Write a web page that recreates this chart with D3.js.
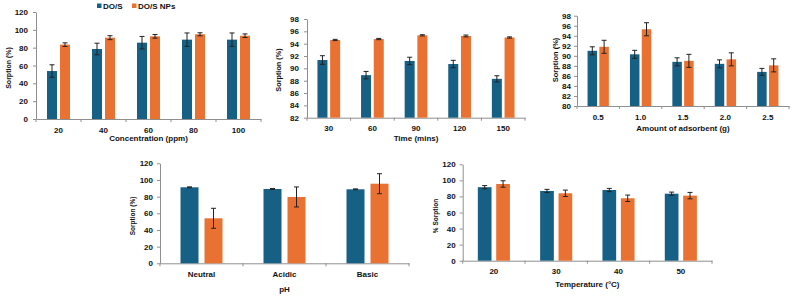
<!DOCTYPE html>
<html>
<head>
<meta charset="utf-8">
<script src="https://cdn.jsdelivr.net/npm/d3@7"></script>
<style>
  body { margin: 0; background: #fff; }
  svg text { font-family: "Liberation Sans", Arial, sans-serif; font-weight: bold; fill: #111; }
</style>
</head>
<body>
<svg id="chart" width="795" height="297"></svg>
<script>
// series names + colours
var seriesNames = ["DO/S", "DO/S NPs"];
var seriesColors = ["#176085", "#E97132"];

// concentration
var concCats = ["20", "40", "60", "80", "100"];
var concDOS = [53.8, 78.5, 85.6, 89, 89];
var concDOSErr = [7, 6.5, 7, 7.5, 7.5];
var concNPs = [83.4, 91.2, 92.7, 95, 93.4];
var concNPsErr = [2, 2.2, 2, 1.7, 2];

// time
var timeCats = ["30", "60", "90", "120", "150"];
var timeDOS = [91.35, 88.9, 91.2, 90.7, 88.3];
var timeDOSErr = [0.7, 0.6, 0.6, 0.6, 0.5];
var timeNPs = [94.6, 94.75, 95.35, 95.25, 95.0];
var timeNPsErr = [0.1, 0.1, 0.1, 0.15, 0.1];

// amount of adsorbent
var doseCats = ["0.5", "1.0", "1.5", "2.0", "2.5"];
var doseDOS = [91.0, 90.3, 88.8, 88.4, 86.8];
var doseDOSErr = [0.8, 0.8, 0.8, 0.8, 0.7];
var doseNPs = [91.8, 95.3, 89.0, 89.3, 88.1];
var doseNPsErr = [1.3, 1.3, 1.3, 1.3, 1.3];

// pH
var phCats = ["Neutral", "Acidic", "Basic"];
var phDOS = [91.2, 89.2, 88.8];
var phDOSErr = [0.5, 0.5, 0.5];
var phNPs = [54, 79.6, 95.5];
var phNPsErr = [12, 12, 12];

// temperature
var tempCats = ["20", "30", "40", "50"];
var tempDOS = [91.5, 86.8, 88, 83.4];
var tempDOSErr = [2, 2, 2, 2];
var tempNPs = [95.5, 83.9, 77.7, 81];
var tempNPsErr = [4, 4, 4, 4];

var svg = d3.select("#chart");
var axisColor = "#8f8f8f";

function drawPanel(p) {
  var g = svg.append("g");

  var x = d3.scaleBand().domain(p.cats).range([p.left, p.right]);
  var y = d3.scaleLinear().domain([p.yMin, p.yMax]).range([p.bottom, p.top]);

  // y axis
  var yAxis = d3.axisLeft(y)
      .tickValues(d3.range(p.yMin, p.yMax + 0.001, p.yStep))
      .tickFormat(d3.format("d"))
      .tickSize(3)
      .tickSizeOuter(0)
      .tickPadding(p.yPad);
  var ya = g.append("g")
      .attr("transform", "translate(" + p.left + ",0)")
      .call(yAxis);
  ya.select(".domain").attr("stroke", axisColor);
  ya.selectAll(".tick line").attr("stroke", axisColor);
  ya.selectAll(".tick text").attr("font-size", 8).attr("fill", "#111");

  // x axis (labels only, boundary ticks drawn below)
  var xAxis = d3.axisBottom(x).tickSize(0).tickSizeOuter(0).tickPadding(8);
  var xa = g.append("g")
      .attr("transform", "translate(0," + p.bottom + ")")
      .call(xAxis);
  xa.select(".domain").attr("stroke", axisColor);
  xa.selectAll(".tick text").attr("font-size", 8).attr("fill", "#111");

  var bounds = p.cats.map(function(c) { return x(c); }).concat([p.right]);
  g.selectAll(".bt")
      .data(bounds)
      .enter().append("line")
      .attr("x1", function(d) { return d; })
      .attr("x2", function(d) { return d; })
      .attr("y1", p.bottom)
      .attr("y2", p.bottom + 3)
      .attr("stroke", axisColor);

  // bars
  var series = [
    {vals: p.dos, errs: p.dosErr, off: -(p.barW + p.gap / 2), color: seriesColors[0]},
    {vals: p.nps, errs: p.npsErr, off: p.gap / 2, color: seriesColors[1]}
  ];
  series.forEach(function(s) {
    var rows = p.cats.map(function(c, i) { return {cat: c, v: s.vals[i], e: s.errs[i]}; });
    g.selectAll(null)
        .data(rows)
        .enter().append("rect")
        .attr("x", function(d) { return x(d.cat) + x.bandwidth() / 2 + s.off; })
        .attr("y", function(d) { return y(d.v); })
        .attr("width", p.barW)
        .attr("height", function(d) { return p.bottom - y(d.v); })
        .attr("fill", s.color);

    // error bars
    var eb = g.selectAll(null)
        .data(rows)
        .enter().append("g")
        .attr("stroke", "#222")
        .attr("stroke-width", 1);
    var cx = function(d) { return x(d.cat) + x.bandwidth() / 2 + s.off + p.barW / 2; };
    eb.append("line")
        .attr("x1", cx).attr("x2", cx)
        .attr("y1", function(d) { return y(d.v - d.e); })
        .attr("y2", function(d) { return y(d.v + d.e); });
    [1, -1].forEach(function(sign) {
      eb.append("line")
          .attr("x1", function(d) { return cx(d) - 2.5; })
          .attr("x2", function(d) { return cx(d) + 2.5; })
          .attr("y1", function(d) { return y(d.v + sign * d.e); })
          .attr("y2", function(d) { return y(d.v + sign * d.e); });
    });
  });

  // axis titles
  g.append("text")
      .attr("x", (p.left + p.right) / 2)
      .attr("y", p.xTitleY)
      .attr("text-anchor", "middle")
      .attr("dominant-baseline", "central")
      .attr("font-size", 8)
      .text(p.xTitle);
  g.append("text")
      .attr("transform", "translate(" + p.yTitleX + "," + p.yTitleY + ") rotate(-90)")
      .attr("text-anchor", "middle")
      .attr("dominant-baseline", "central")
      .attr("font-size", p.yTitleSize)
      .text(p.yTitle);
}

drawPanel({cats: concCats, dos: concDOS, dosErr: concDOSErr, nps: concNPs, npsErr: concNPsErr,
  yMin: 0, yMax: 120, yStep: 20, left: 36, right: 261, top: 12, bottom: 119, yPad: 5,
  barW: 10, gap: 3, xTitle: "Concentration (ppm)", xTitleY: 138.5,
  yTitle: "Sorption (%)", yTitleX: 8, yTitleY: 68, yTitleSize: 7});

drawPanel({cats: timeCats, dos: timeDOS, dosErr: timeDOSErr, nps: timeNPs, npsErr: timeNPsErr,
  yMin: 82, yMax: 98, yStep: 2, left: 307, right: 525, top: 19, bottom: 117.7, yPad: 5,
  barW: 10, gap: 2.7, xTitle: "Time (mins)", xTitleY: 138,
  yTitle: "Sorption (%)", yTitleX: 278, yTitleY: 70, yTitleSize: 7.3});

drawPanel({cats: doseCats, dos: doseDOS, dosErr: doseDOSErr, nps: doseNPs, npsErr: doseNPsErr,
  yMin: 80, yMax: 98, yStep: 2, left: 577, right: 789, top: 15.7, bottom: 106, yPad: 3,
  barW: 9.5, gap: 2.3, xTitle: "Amount of adsorbent (g)", xTitleY: 128.5,
  yTitle: "Sorption (%)", yTitleX: 555, yTitleY: 60, yTitleSize: 7.5});

drawPanel({cats: phCats, dos: phDOS, dosErr: phDOSErr, nps: phNPs, npsErr: phNPsErr,
  yMin: 0, yMax: 120, yStep: 20, left: 160, right: 409, top: 163.3, bottom: 263.3, yPad: 4,
  barW: 18, gap: 6, xTitle: "pH", xTitleY: 289,
  yTitle: "Sorption (%)", yTitleX: 132, yTitleY: 216, yTitleSize: 6.5});

drawPanel({cats: tempCats, dos: tempDOS, dosErr: tempDOSErr, nps: tempNPs, npsErr: tempNPsErr,
  yMin: 0, yMax: 120, yStep: 20, left: 462.7, right: 712, top: 164.3, bottom: 260.7, yPad: 4,
  barW: 13.7, gap: 4.7, xTitle: "Temperature (\u00B0C)", xTitleY: 284,
  yTitle: "% Sorption", yTitleX: 435, yTitleY: 216, yTitleSize: 6.5});

// legend (top of first panel)
var legend = svg.append("g").attr("transform", "translate(97,6)");
var legendX = [0, 35];
seriesNames.forEach(function(name, i) {
  legend.append("rect")
      .attr("x", legendX[i]).attr("y", -2.5)
      .attr("width", 4.5).attr("height", 4.5)
      .attr("fill", seriesColors[i]);
  legend.append("text")
      .attr("x", legendX[i] + 6).attr("y", 0)
      .attr("dominant-baseline", "central")
      .attr("font-size", 8)
      .text(name);
});
</script>
</body>
</html>
